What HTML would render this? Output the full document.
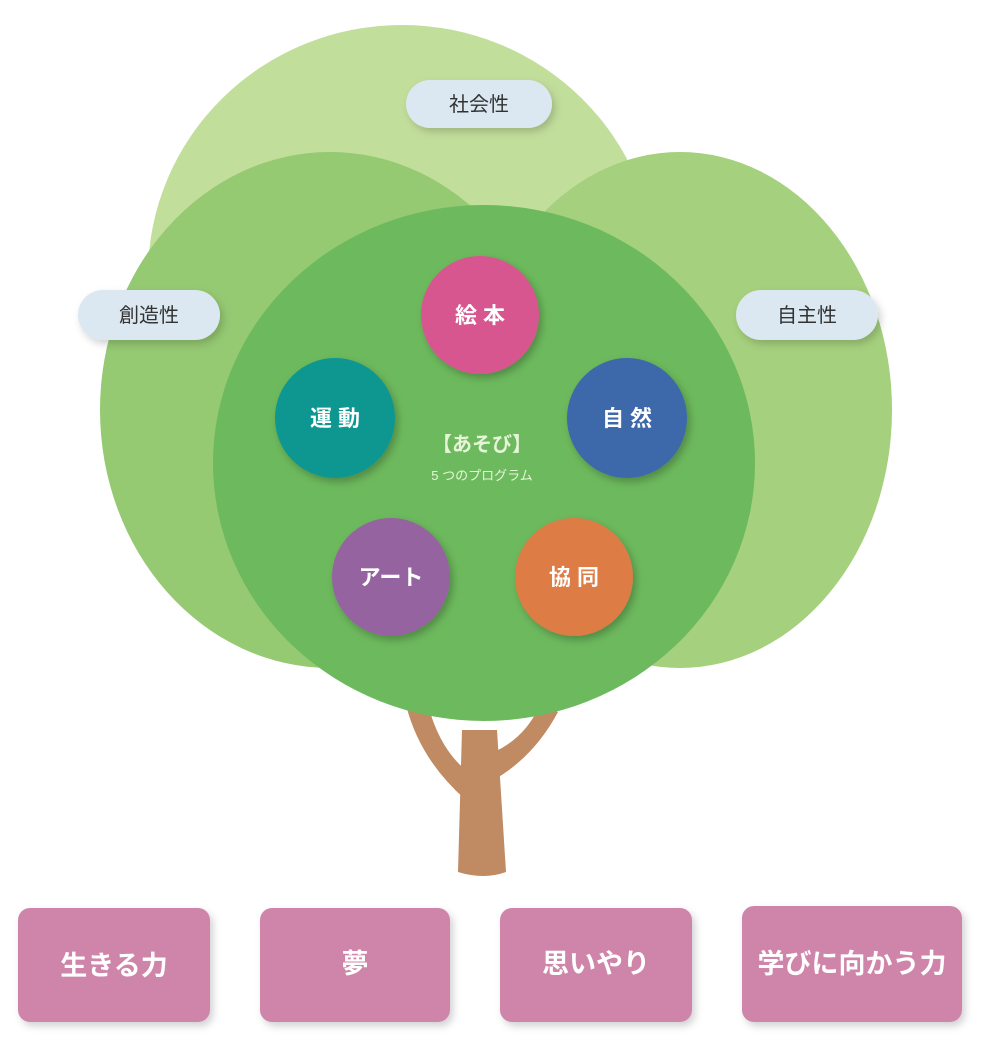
<!DOCTYPE html>
<html><head><meta charset="utf-8"><style>
html,body{margin:0;padding:0;background:#fff;}
svg{display:block;font-family:"Liberation Sans","Noto Sans CJK JP",sans-serif;}
</style></head><body>
<svg width="992" height="1057" viewBox="0 0 992 1057" xmlns="http://www.w3.org/2000/svg">
<defs>
<filter id="sh" x="-30%" y="-30%" width="160%" height="160%"><feDropShadow dx="3" dy="4" stdDeviation="4" flood-color="#000" flood-opacity="0.25"/></filter>
<filter id="sh2" x="-30%" y="-30%" width="160%" height="160%"><feDropShadow dx="3" dy="4" stdDeviation="4" flood-color="#000" flood-opacity="0.18"/></filter>
</defs>
<!-- trunk -->
<g fill="#c08a63">
<path d="M462 730 L497 730 L506 872 Q484 880 458 872 Z"/>
<path d="M406 705 L428 705 Q440 750 468 772 L466 800 Q420 760 406 705 Z"/>
<path d="M540 705 L558 712 Q535 755 497 778 L494 752 Q525 738 540 705 Z"/>
</g>
<ellipse cx="402" cy="275" rx="254" ry="250" fill="#c2de9b"/>
<ellipse cx="680" cy="410" rx="212" ry="258" fill="#a5d07d"/>
<ellipse cx="330" cy="410" rx="230" ry="258" fill="#95c972"/>
<ellipse cx="484" cy="463" rx="271" ry="258" fill="#6db95d"/>
<!-- pills -->
<g filter="url(#sh2)" fill="#dbe8f2">
<rect x="406" y="80" width="146" height="48" rx="24"/>
<rect x="78" y="290" width="142" height="50" rx="25"/>
<rect x="736" y="290" width="142" height="50" rx="25"/>
</g>
<g fill="#333" font-size="20" text-anchor="middle">
<text x="479" y="111">社会性</text>
<text x="149" y="322">創造性</text>
<text x="807" y="322">自主性</text>
</g>
<!-- circles -->
<g filter="url(#sh)">
<circle cx="480" cy="315" r="59" fill="#d7568f"/>
<circle cx="335" cy="418" r="60" fill="#0e9790"/>
<circle cx="627" cy="418" r="60" fill="#3e68a9"/>
<circle cx="391" cy="577" r="59" fill="#9463a0"/>
<circle cx="574" cy="577" r="59" fill="#dd7c45"/>
</g>
<g fill="#fff" font-size="22" font-weight="bold" text-anchor="middle">
<text x="480" y="323">絵 本</text>
<text x="335" y="426">運 動</text>
<text x="627" y="426">自 然</text>
<text x="391" y="585">アート</text>
<text x="574" y="585">協 同</text>
</g>
<g fill="#e6f5d8" text-anchor="middle">
<text x="482" y="451" font-size="20" font-weight="bold">【あそび】</text>
<text x="482" y="480" font-size="13">5 つのプログラム</text>
</g>
<!-- bottom boxes -->
<g fill="#cf85a9" filter="url(#sh2)">
<rect x="18" y="908" width="192" height="114" rx="12"/>
<rect x="260" y="908" width="190" height="114" rx="12"/>
<rect x="500" y="908" width="192" height="114" rx="12"/>
<rect x="742" y="906" width="220" height="116" rx="12"/>
</g>
<g fill="#fff" font-size="27" font-weight="bold" text-anchor="middle">
<text x="114" y="975">生きる力</text>
<text x="355" y="973">夢</text>
<text x="596" y="973">思いやり</text>
<text x="852" y="973">学びに向かう力</text>
</g>
</svg>
</body></html>
